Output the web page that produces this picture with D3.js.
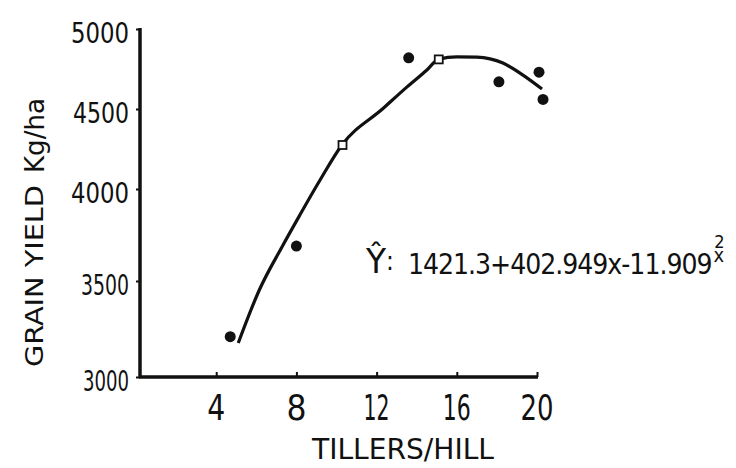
<!DOCTYPE html>
<html>
<head>
<meta charset="utf-8">
<script src="https://cdn.jsdelivr.net/npm/d3@7"></script>
<style>
  body { margin: 0; background: #fff; }
  text { font-family: "DejaVu Sans Condensed", "Liberation Sans Narrow", sans-serif; fill: #111; }
</style>
</head>
<body>
<svg id="chart" width="736" height="468"></svg>
<script>
// observed points (tillers per hill, grain yield kg/ha)
let obsX = [4.7, 8.0, 13.6, 18.1, 20.1, 20.3];
let obsY = [3210, 3690, 4820, 4670, 4730, 4560];

// points marked with open squares (on the fitted curve)
let fitX = [10.3, 15.1];
let fitY = [4275, 4810];

// fitted curve as drawn on the sheet
let curveX = [5.1, 6.15, 7.28, 8.18, 9.18, 10.27, 12.32, 13.52, 14.51, 15.1, 16.0, 17.0, 18.3, 19.3, 20.25];
let curveY = [3177, 3453, 3685, 3860, 4056, 4275, 4503, 4638, 4744, 4812, 4826, 4824, 4787, 4712, 4625];

let xTicks = [4, 8, 12, 16, 20];
let yTicks = [3000, 3500, 4000, 4500, 5000];

let equation = "1421.3+402.949x-11.909";

let svg = d3.select("#chart");

// x scale: hand-drawn axis, ticks are roughly evenly spaced
let x = d3.scaleLinear()
    .domain([0, 20])
    .range([136, 537]);

// y scale: hand-drawn ticks are not evenly spaced, so use a piecewise scale
let y = d3.scaleLinear()
    .domain(yTicks)
    .range([377, 281, 189, 109, 29]);

// axes
let xAxis = svg.append("g").attr("transform", "translate(0,377)")
    .call(d3.axisBottom(x).tickValues(xTicks).tickSize(-5).tickFormat(""));
xAxis.select(".domain").remove();
xAxis.selectAll("line").attr("stroke", "#111").attr("stroke-width", 2);
svg.append("line")
    .attr("x1", 139).attr("x2", x(20) + 1)
    .attr("y1", 377).attr("y2", 377)
    .attr("stroke", "#111").attr("stroke-width", 3.5);

let yAxis = svg.append("g").attr("transform", "translate(140,0)")
    .call(d3.axisLeft(y).tickValues(yTicks).tickSize(4).tickFormat(""));
yAxis.select(".domain").remove();
yAxis.selectAll("line").attr("stroke", "#111").attr("stroke-width", 2);
svg.append("line")
    .attr("x1", 140).attr("x2", 140)
    .attr("y1", y(5000) - 1).attr("y2", 378)
    .attr("stroke", "#111").attr("stroke-width", 3.5);

// tick labels
let yLabW = { 3000: 46, 3500: 48, 4000: 58, 4500: 56, 5000: 58 };
svg.append("g").selectAll("text")
    .data(yTicks)
    .join("text")
    .attr("x", 129)
    .attr("y", d => y(d) + 14)
    .attr("text-anchor", "end")
    .attr("font-size", 28)
    .attr("textLength", d => yLabW[d])
    .attr("lengthAdjust", "spacingAndGlyphs")
    .text(d => d);

let xLabW = { 4: 18, 8: 20, 12: 26, 16: 28, 20: 33 };
svg.append("g").selectAll("text")
    .data(xTicks)
    .join("text")
    .attr("x", d => x(d) - xLabW[d] / 2)
    .attr("y", 420)
    .attr("font-size", 36)
    .attr("textLength", d => xLabW[d])
    .attr("lengthAdjust", "spacingAndGlyphs")
    .text(d => d);

// axis titles
svg.append("text")
    .attr("x", 312).attr("y", 459)
    .attr("font-size", 29)
    .attr("textLength", 182)
    .attr("lengthAdjust", "spacingAndGlyphs")
    .text("TILLERS/HILL");

svg.append("text")
    .attr("transform", "translate(43,367) rotate(-90)")
    .attr("font-size", 25)
    .attr("textLength", 182)
    .attr("lengthAdjust", "spacingAndGlyphs")
    .text("GRAIN YIELD");

svg.append("text")
    .attr("transform", "translate(44,173) rotate(-90)")
    .attr("font-size", 26)
    .attr("textLength", 75)
    .attr("lengthAdjust", "spacingAndGlyphs")
    .text("Kg/ha");

// fitted curve
let line = d3.line()
    .x(d => x(d))
    .y((d, i) => y(curveY[i]))
    .curve(d3.curveMonotoneX);
svg.append("path")
    .datum(curveX)
    .attr("d", line)
    .attr("fill", "none")
    .attr("stroke", "#111")
    .attr("stroke-width", 3.2);

// open squares
svg.append("g").selectAll("rect")
    .data(fitX)
    .join("rect")
    .attr("x", d => x(d) - 4)
    .attr("y", (d, i) => y(fitY[i]) - 4)
    .attr("width", 8).attr("height", 8)
    .attr("fill", "#fff")
    .attr("stroke", "#111")
    .attr("stroke-width", 1.8);

// filled dots
svg.append("g").selectAll("circle")
    .data(obsX)
    .join("circle")
    .attr("cx", d => x(d))
    .attr("cy", (d, i) => y(obsY[i]))
    .attr("r", 5.5)
    .attr("fill", "#111");

// regression equation
svg.append("text")
    .attr("x", 366).attr("y", 273)
    .attr("font-size", 34)
    .attr("textLength", 20)
    .attr("lengthAdjust", "spacingAndGlyphs")
    .text("Ŷ");
svg.append("text")
    .attr("x", 386).attr("y", 270)
    .attr("font-size", 26)
    .text(":");
let eq = svg.append("text")
    .attr("x", 408).attr("y", 274)
    .attr("font-size", 28)
    .attr("letter-spacing", -1);
eq.append("tspan").text(equation);
eq.append("tspan").attr("font-size", 20).attr("dx", 2).attr("dy", -12).text("x");
eq.append("tspan").attr("font-size", 18).attr("dx", -9).attr("dy", -14).text("2");
</script>
</body>
</html>
